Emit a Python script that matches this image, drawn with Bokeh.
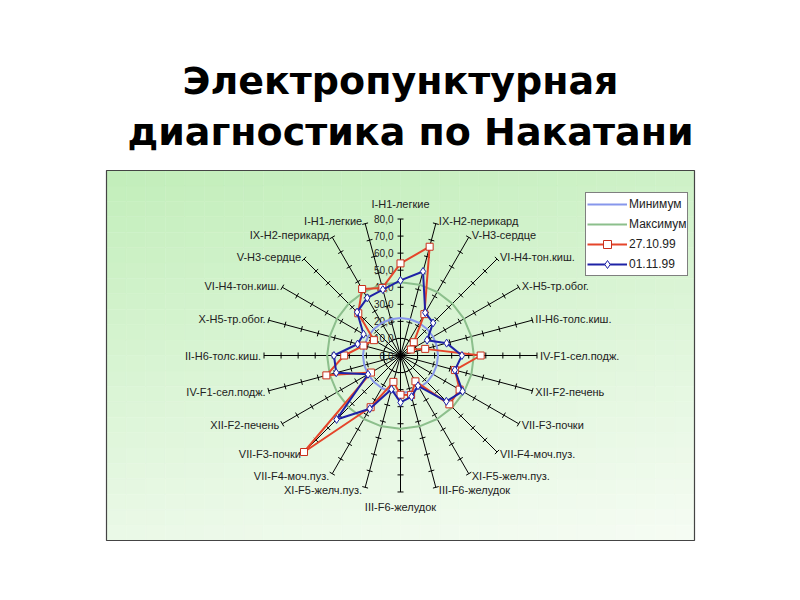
import numpy as np
from bokeh.plotting import figure
from bokeh.models import Range1d, Legend, LegendItem
from bokeh.core.properties import value
from bokeh.embed import file_html
from bokeh.resources import INLINE

# ---------------- data ----------------
title_lines = ["Электропунктурная", "диагностика по Накатани"]

categories = [
    "I-H1-легкие", "IX-H2-перикард", "V-H3-сердце", "VI-H4-тон.киш.",
    "X-H5-тр.обог.", "II-H6-толс.киш.", "IV-F1-сел.подж.", "XII-F2-печень",
    "VII-F3-почки", "VII-F4-моч.пуз.", "XI-F5-желч.пуз.", "III-F6-желудок",
    "III-F6-желудок", "XI-F5-желч.пуз.", "VII-F4-моч.пуз.", "VII-F3-почки",
    "XII-F2-печень", "IV-F1-сел.подж.", "II-H6-толс.киш.", "X-H5-тр.обог.",
    "VI-H4-тон.киш.", "V-H3-сердце", "IX-H2-перикард", "I-H1-легкие",
]

series_names = ["Минимум", "Максимум", "27.10.99", "01.11.99"]

minimum = [22, 22, 22, 22, 22, 22, 22, 22, 22, 22, 22, 22,
           22, 22, 22, 22, 22, 22, 22, 22, 22, 22, 22, 22]
maximum = [43, 43, 43, 43, 43, 43, 43, 43, 43, 43, 43, 43,
           43, 43, 43, 43, 43, 43, 43, 43, 43, 43, 43, 43]
s_27_10_99 = [54, 66, 28, 11, 7, 15, 47, 33, 40, 40.5, 17.5, 24,
              23, 16, 35, 80, 20, 45, 33, 22.5, 18, 35, 45, 41]
s_01_11_99 = [44, 51, 29, 27, 18, 28, 36, 33, 42, 38, 20.5, 25,
              27.5, 20.5, 36, 53, 22, 39, 39, 26, 25, 36, 39, 40]

value_ticks = [0, 10, 20, 30, 40, 50, 60, 70, 80]
value_tick_labels = ["0,0", "10,0", "20,0", "30,0", "40,0", "50,0", "60,0", "70,0", "80,0"]
axis_max = 80

# ---------------- geometry (page pixels -> value units) ----------------
S = 1.706          # pixels per value unit
CX, CY = 400, 355  # page position of the radar centre
W, H = 784, 584
OFF = 0            # page position of the figure's top-left corner


def ux(px):
    return (px - CX) / S


def uy(py):
    return (CY - py) / S


p = figure(width=W, height=H, output_backend="svg", toolbar_location=None,
           x_range=Range1d(ux(OFF), ux(OFF + W)), y_range=Range1d(uy(OFF + H), uy(OFF)),
           min_border=0, outline_line_color=None,
           background_fill_color="white", border_fill_color="white")
p.axis.visible = False
p.grid.visible = False

# ---------------- chart area background (gradient) ----------------
bx0, by0, bx1, by1 = 106, 170, 694, 540
nx, ny = 30, 24
top_c = np.array([194, 238, 186])
bot_c = np.array([246, 252, 244])
l, r, t, b, cols = [], [], [], [], []
for j in range(ny):
    for i in range(nx):
        x0 = bx0 + (bx1 - bx0) * i / nx
        x1 = bx0 + (bx1 - bx0) * (i + 1) / nx
        y0 = by0 + (by1 - by0) * j / ny
        y1 = by0 + (by1 - by0) * (j + 1) / ny
        f = 0.78 * (j + 0.5) / ny + 0.22 * (i + 0.5) / nx
        f = min(max(f, 0), 1)
        c = top_c + (bot_c - top_c) * f
        l.append(ux(x0)); r.append(ux(x1)); t.append(uy(y0)); b.append(uy(y1))
        cols.append("#%02x%02x%02x" % tuple(int(round(v)) for v in c))
p.quad(left=l, right=r, top=t, bottom=b, fill_color=cols, line_color=cols, line_width=0.5)
p.quad(left=[ux(bx0)], right=[ux(bx1)], top=[uy(by0)], bottom=[uy(by1)],
       fill_color=None, line_color="#444444", line_width=1.2)

# ---------------- title ----------------
p.text(x=[ux(400), ux(410)], y=[uy(80), uy(131)], text=title_lines,
       text_font=value("DejaVu Sans"), text_font_style="bold",
       text_font_size="38px", text_align="center", text_baseline="middle",
       text_color="black")

# ---------------- radar axes ----------------
n = len(categories)
theta = np.arange(n) * 2 * np.pi / n
sx, sy = np.sin(theta), np.cos(theta)

p.segment(x0=np.zeros(n), y0=np.zeros(n), x1=axis_max * sx, y1=axis_max * sy,
          line_color="black", line_width=1)

h = 3.0 / S
tx0, ty0, tx1, ty1 = [], [], [], []
for k in range(n):
    for v in value_ticks[1:]:
        cx_, cy_ = v * sx[k], v * sy[k]
        px_, py_ = sy[k], -sx[k]
        tx0.append(cx_ - h * px_); ty0.append(cy_ - h * py_)
        tx1.append(cx_ + h * px_); ty1.append(cy_ + h * py_)
p.segment(x0=tx0, y0=ty0, x1=tx1, y1=ty1, line_color="black", line_width=1)

# value labels on the top axis
p.text(x=[ux(393)] * len(value_ticks), y=value_ticks, text=value_tick_labels,
       text_font=value("Liberation Sans"), text_font_size="10px",
       text_align="right", text_baseline="middle", text_color="#222222")

# category labels
lx, ly, la = [], [], []
for k in range(n):
    ex, ey = axis_max * sx[k], axis_max * sy[k]
    if abs(sx[k]) < 0.05:
        lx.append(ex)
        ly.append(ey + (15 / S) * np.sign(sy[k]))
        la.append("center")
    else:
        lx.append(ex + np.sign(sx[k]) * 3 / S)
        ly.append(ey + sy[k] * 3 / S)
        la.append("left" if sx[k] > 0 else "right")
p.text(x=lx, y=ly, text=categories, text_align=la, text_baseline="middle",
       text_font=value("Liberation Sans"), text_font_size="11px", text_color="#222222")

# ---------------- series ----------------
def closed(vals):
    v = np.array(vals + vals[:1], dtype=float)
    th = np.append(theta, theta[0])
    return v * np.sin(th), v * np.cos(th)


mnx, mny = closed(minimum)
r_min = p.line(mnx, mny, line_color="#8797ec", line_width=2)
mxx, mxy = closed(maximum)
r_max = p.line(mxx, mxy, line_color="#8cbf8c", line_width=2)

rx, ry = closed(s_27_10_99)
r_red_l = p.line(rx, ry, line_color="#e5452a", line_width=2)
r_red_m = p.scatter(rx[:-1], ry[:-1], marker="square", size=7,
                    fill_color="white", line_color="#c8301c", line_width=1)

bx, by = closed(s_01_11_99)
r_blu_l = p.line(bx, by, line_color="#1e22a6", line_width=2)
r_blu_m = p.scatter(bx[:-1], by[:-1], marker="diamond", size=8,
                    fill_color="white", line_color="#1e22a6", line_width=1)

legend = Legend(items=[
    LegendItem(label=series_names[0], renderers=[r_min]),
    LegendItem(label=series_names[1], renderers=[r_max]),
    LegendItem(label=series_names[2], renderers=[r_red_l, r_red_m]),
    LegendItem(label=series_names[3], renderers=[r_blu_l, r_blu_m]),
], location=(585 - OFF, OFF + H - 276), orientation="vertical")
legend.glyph_width = 40
legend.glyph_height = 20
legend.label_height = 20
legend.label_standoff = 2
legend.padding = 1
legend.spacing = 0
legend.margin = 0
legend.label_text_font = "Liberation Sans"
legend.label_text_font_size = "12px"
legend.label_text_color = "#222222"
legend.border_line_color = "black"
legend.border_line_width = 1
legend.background_fill_color = "white"
legend.background_fill_alpha = 1
p.add_layout(legend, "center")

open("out.html", "w").write(file_html(p, INLINE))
